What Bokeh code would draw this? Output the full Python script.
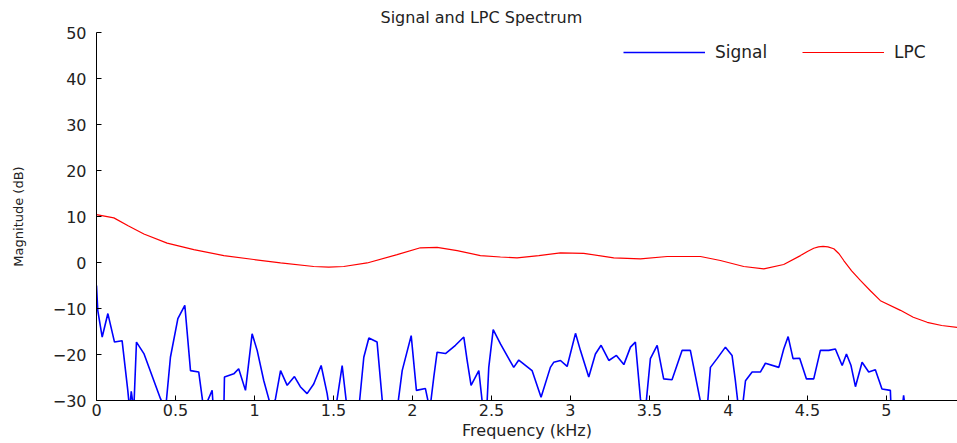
from bokeh.plotting import figure
from bokeh.models import Range1d, FixedTicker, NumeralTickFormatter, Legend, LegendItem
from bokeh.embed import file_html
from bokeh.resources import INLINE

# Signal spectrum (kHz, dB) - values below -30 are clipped by the axis
sig_f = [0.000, 0.008, 0.036, 0.072, 0.114, 0.162, 0.198, 0.210, 0.220, 0.236,
         0.253, 0.300, 0.405, 0.437, 0.468, 0.515, 0.559, 0.595, 0.647, 0.679,
         0.732, 0.740, 0.806, 0.810, 0.869, 0.900, 0.943, 0.985, 1.017, 1.059,
         1.090, 1.110, 1.133, 1.165, 1.207, 1.253, 1.290, 1.333, 1.375, 1.422,
         1.460, 1.475, 1.513, 1.555, 1.587, 1.660, 1.692, 1.724, 1.776, 1.814,
         1.903, 1.935, 1.992, 2.025, 2.082, 2.110, 2.135, 2.156, 2.209, 2.272,
         2.325, 2.346, 2.371, 2.420, 2.447, 2.470, 2.483, 2.511, 2.557, 2.641,
         2.673, 2.757, 2.814, 2.873, 2.894, 2.937, 2.979, 3.032, 3.063, 3.116,
         3.158, 3.194, 3.243, 3.291, 3.338, 3.380, 3.411, 3.443, 3.455, 3.475,
         3.506, 3.549, 3.590, 3.643, 3.707, 3.759, 3.833, 3.865, 3.886, 3.928,
         3.981, 4.023, 4.044, 4.065, 4.087, 4.108, 4.150, 4.203, 4.234, 4.319,
         4.350, 4.378, 4.409, 4.451, 4.494, 4.540, 4.582, 4.635, 4.677, 4.720,
         4.747, 4.776, 4.804, 4.846, 4.888, 4.930, 4.972, 5.025, 5.030, 5.099,
         5.109, 5.120, 5.200, 5.300, 5.400, 5.450]
sig_db = [-5.0, -10.4, -16.2, -11.1, -17.3, -17.0, -27.8, -32.0, -28.0, -32.0,
          -17.3, -19.8, -29.6, -32.0, -20.6, -12.2, -9.3, -23.5, -23.8, -32.0,
          -27.8, -32.0, -32.0, -24.9, -24.2, -23.1, -27.8, -15.5, -19.1, -25.7,
          -29.6, -32.0, -29.6, -23.5, -26.7, -24.8, -27.0, -28.5, -26.4, -22.4,
          -28.5, -32.0, -32.0, -22.4, -32.0, -32.0, -20.6, -16.4, -17.3, -32.0,
          -32.0, -23.5, -15.9, -27.8, -27.4, -32.0, -24.9, -19.5, -19.8, -18.0,
          -16.2, -21.3, -26.7, -23.5, -32.0, -32.0, -22.8, -14.6, -17.7, -22.8,
          -21.2, -23.5, -29.3, -22.8, -21.7, -21.3, -22.6, -15.4, -19.1, -24.9,
          -19.9, -18.0, -21.3, -20.2, -22.2, -18.4, -17.3, -29.6, -32.0, -32.0,
          -20.9, -18.0, -25.3, -25.5, -19.1, -19.1, -32.0, -32.0, -22.8, -20.9,
          -18.4, -20.2, -25.7, -32.0, -32.0, -25.7, -23.8, -23.8, -21.9, -22.8,
          -18.8, -16.1, -20.9, -20.8, -25.3, -25.3, -19.1, -19.1, -18.8, -22.4,
          -19.9, -22.4, -27.0, -21.7, -23.8, -23.3, -27.5, -27.8, -32.0, -32.0,
          -28.9, -32.0, -38.0, -40.0, -38.0, -36.0]

# LPC envelope (kHz, dB)
lpc_f = [0.000, 0.110, 0.200, 0.300, 0.447, 0.616, 0.806, 0.996, 1.165, 1.375,
         1.470, 1.565, 1.713, 1.903, 2.050, 2.156, 2.283, 2.430, 2.557, 2.662,
         2.800, 2.937, 3.084, 3.274, 3.443, 3.612, 3.823, 3.949, 4.097, 4.224,
         4.350, 4.456, 4.500, 4.540, 4.570, 4.599, 4.630, 4.667, 4.700, 4.730,
         4.780, 4.835, 4.900, 4.962, 5.089, 5.170, 5.258, 5.350, 5.448]
lpc_db = [10.4, 9.7, 8.0, 6.2, 4.2, 2.8, 1.5, 0.65, -0.1, -0.87,
          -1.0, -0.87, -0.1, 1.7, 3.2, 3.3, 2.6, 1.5, 1.2, 1.0,
          1.5, 2.1, 2.0, 1.0, 0.8, 1.3, 1.3, 0.43, -0.87, -1.4,
          -0.43, 1.5, 2.4, 3.1, 3.4, 3.5, 3.4, 3.0, 1.9, 0.43,
          -1.8, -3.9, -6.2, -8.3, -10.4, -11.9, -13.0, -13.7, -14.1]

x_ticks = [0, 0.5, 1, 1.5, 2, 2.5, 3, 3.5, 4, 4.5, 5]
y_ticks = [-30, -20, -10, 0, 10, 20, 30, 40, 50]

FONT = "DejaVu Sans"

p = figure(width=957, height=443, output_backend="svg", toolbar_location=None,
           x_range=Range1d(0, 5.45), y_range=Range1d(-30, 50),
           min_border_left=96, min_border_right=0, min_border_top=32,
           min_border_bottom=43)

p.title.text = "Signal and LPC Spectrum"
p.title.align = "left"
p.title.offset = 284
p.title.text_font = FONT
p.title.text_font_size = "16px"
p.title.text_font_style = "normal"
p.title.text_color = "#222222"
p.title.standoff = 11

p.outline_line_color = None
p.xgrid.grid_line_color = None
p.ygrid.grid_line_color = None

for ax in (p.xaxis[0], p.yaxis[0]):
    ax.major_tick_in = 5
    ax.major_tick_out = 0
    ax.minor_tick_in = 0
    ax.minor_tick_out = 0
    ax.axis_line_color = "black"
    ax.major_tick_line_color = "black"
    ax.major_label_text_font = FONT
    ax.major_label_text_font_size = "16px"
    ax.major_label_text_color = "#222222"
    ax.axis_label_text_font = FONT
    ax.axis_label_text_font_style = "normal"
    ax.axis_label_text_color = "#222222"

p.xaxis[0].ticker = FixedTicker(ticks=x_ticks)
p.xaxis[0].formatter = NumeralTickFormatter(format="0.[0]")
p.xaxis[0].axis_label = "Frequency (kHz)"
p.xaxis[0].axis_label_text_font_size = "16px"
p.xaxis[0].major_label_standoff = 3
p.xaxis[0].axis_label_standoff = 2

p.yaxis[0].ticker = FixedTicker(ticks=y_ticks)
p.yaxis[0].axis_label = "Magnitude (dB)"
p.yaxis[0].axis_label_text_font_size = "13px"
p.yaxis[0].major_label_standoff = 10
p.yaxis[0].axis_label_standoff = 24

r_sig = p.line(sig_f, sig_db, line_color="#0000ff", line_width=1.6)
r_lpc = p.line(lpc_f, lpc_db, line_color="#ff0000", line_width=1.2)

legend = Legend(items=[LegendItem(label="Signal", renderers=[r_sig]),
                       LegendItem(label="LPC", renderers=[r_lpc])],
                location="top_right", orientation="horizontal",
                border_line_alpha=0, background_fill_alpha=0,
                glyph_width=82, label_width=53, label_text_font=FONT,
                label_text_font_size="17px", label_text_color="#222222",
                spacing=34, label_standoff=10, margin=6, padding=4)
p.add_layout(legend)

open("out.html", "w").write(file_html(p, INLINE))
